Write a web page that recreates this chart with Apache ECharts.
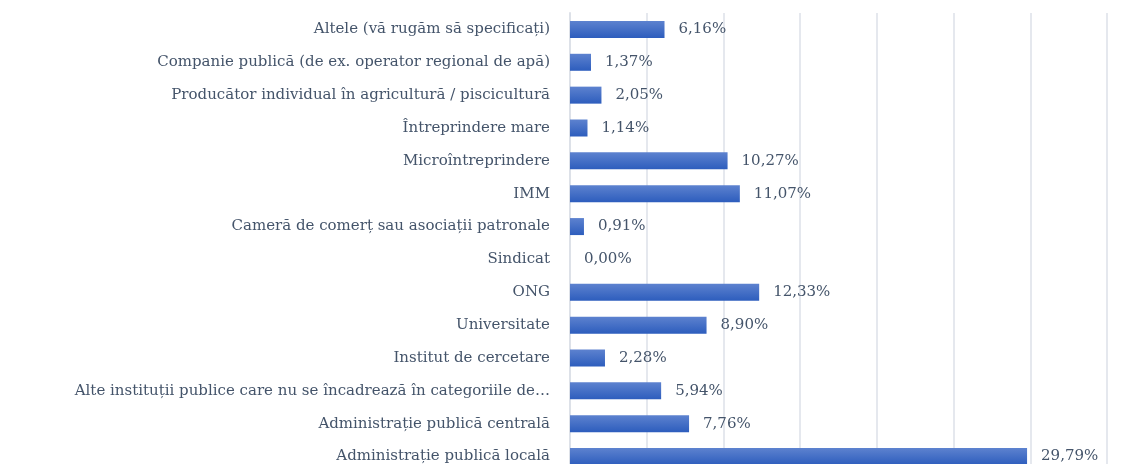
<!DOCTYPE html>
<html>
<head>
<meta charset="utf-8">
<script src="https://cdn.jsdelivr.net/npm/echarts@6/dist/echarts.min.js"></script>
<style>
  html, body { margin: 0; padding: 0; background: #fff; }
  #chart { width: 1124px; height: 464px; }
</style>
</head>
<body>
<div id="chart"></div>
<script>
// categories bottom -> top (as ECharts draws a category y axis)
const categories = [
  "Administrație publică locală",
  "Administrație publică centrală",
  "Alte instituții publice care nu se încadrează în categoriile de…",
  "Institut de cercetare",
  "Universitate",
  "ONG",
  "Sindicat",
  "Cameră de comerț sau asociații patronale",
  "IMM",
  "Microîntreprindere",
  "Întreprindere mare",
  "Producător individual în agricultură / piscicultură",
  "Companie publică (de ex. operator regional de apă)",
  "Altele (vă rugăm să specificați)"
];
const shares = [29.79, 7.76, 5.94, 2.28, 8.90, 12.33, 0.00, 0.91, 11.07, 10.27, 1.14, 2.05, 1.37, 6.16];

const chart = echarts.init(document.getElementById("chart"));
const textColor = "#44546a";
const fontFamily = "'DejaVu Serif', 'Liberation Serif', serif";

chart.setOption({
  animation: false,
  grid: { left: 570, right: 17, top: 13, bottom: -9, outerBoundsMode: "none", containLabel: false },
  xAxis: {
    type: "value",
    min: 0,
    max: 35,
    interval: 5,
    axisLabel: { show: false },
    axisLine: { show: false },
    axisTick: { show: false },
    splitLine: { lineStyle: { color: "#dde1e8", width: 1.5 } }
  },
  yAxis: {
    type: "category",
    data: categories,
    axisTick: { show: false },
    axisLine: { show: true, lineStyle: { color: "#dde1e8", width: 2 } },
    axisLabel: {
      color: textColor,
      fontFamily: fontFamily,
      fontSize: 15,
      margin: 20
    }
  },
  series: [{
    type: "bar",
    data: shares,
    barWidth: 17,
    itemStyle: {
      color: new echarts.graphic.LinearGradient(0, 0, 0, 1, [
        { offset: 0, color: "#5d82cf" },
        { offset: 1, color: "#2d5dbd" }
      ])
    },
    label: {
      show: true,
      position: "right",
      distance: 14,
      color: textColor,
      fontFamily: fontFamily,
      fontSize: 15,
      formatter: p => p.value.toFixed(2).replace(".", ",") + "%"
    }
  }]
});

window.addEventListener("resize", () => chart.resize());
</script>
</body>
</html>
